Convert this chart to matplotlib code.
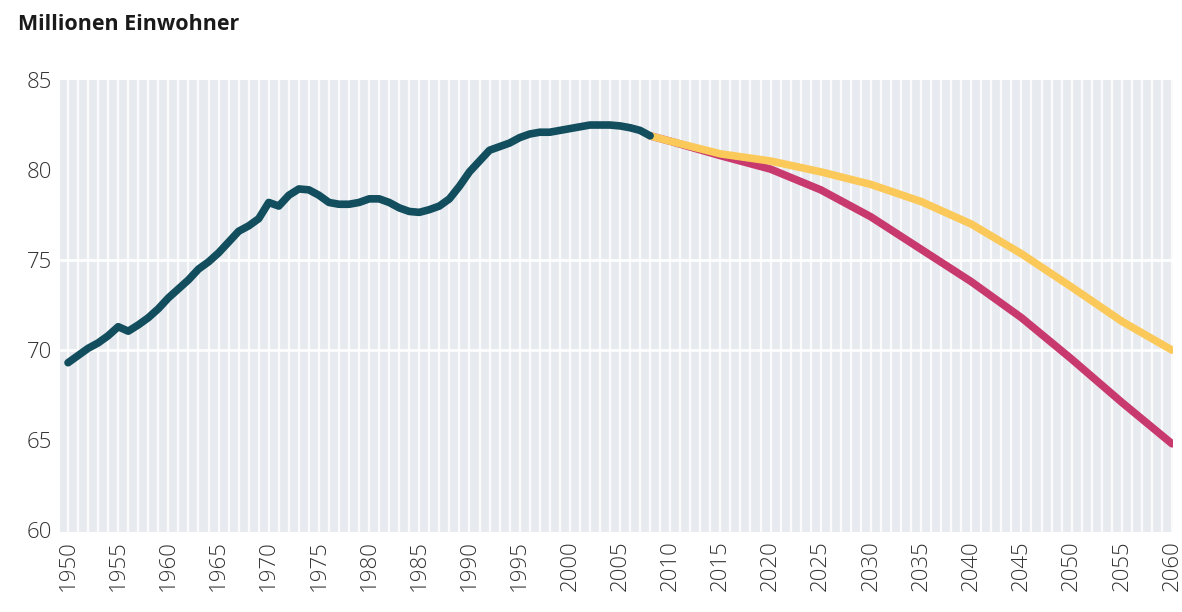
import numpy as np
import matplotlib
matplotlib.use('Agg')
import matplotlib.pyplot as plt

## data (million inhabitants)
hist_years = list(range(1950, 2009))
hist_pop = [69.3, 69.7, 70.1, 70.4, 70.8, 71.3, 71.05, 71.4, 71.8, 72.3,
            72.9, 73.4, 73.9, 74.5, 74.9, 75.4, 76.0, 76.6, 76.9, 77.3,
            78.2, 78.0, 78.6, 78.95, 78.9, 78.6, 78.2, 78.1, 78.1, 78.2,
            78.4, 78.4, 78.2, 77.9, 77.7, 77.65, 77.8, 78.0, 78.4, 79.1,
            79.9, 80.5, 81.1, 81.3, 81.5, 81.8, 82.0, 82.1, 82.1, 82.2,
            82.3, 82.4, 82.5, 82.5, 82.5, 82.45, 82.35, 82.2, 81.9]
proj_years = [2008, 2010, 2015, 2020, 2025, 2030, 2035, 2040, 2045, 2050, 2055, 2060]
proj_upper = [81.9, 81.6, 80.9, 80.5, 79.9, 79.2, 78.25, 77.0, 75.35, 73.5, 71.6, 70.0]
proj_lower = [81.9, 81.6, 80.8, 80.05, 78.9, 77.4, 75.6, 73.8, 71.8, 69.5, 67.1, 64.8]

yticks = [60, 65, 70, 75, 80, 85]
xticks = list(range(1950, 2061, 5))

c_hist = '#124e5d'
c_upper = '#fbc95a'
c_lower = '#c83a6e'
c_bg = '#e7ebef'

plt.rcParams['font.family'] = ['Open Sans', 'DejaVu Sans']

fig = plt.figure(figsize=(11.82, 6.12), dpi=100)
ax = fig.add_axes([60/1182, 1-532/612, (1173-60)/1182, (532-80)/612])
ax.set_facecolor(c_bg)

## white stripes per year, faint white lines at some y levels
for yr in range(1949, 2061):
    ax.axvline(yr, color='white', lw=1.6, alpha=0.85, zorder=1)
for yv in [70, 75]:
    ax.axhline(yv, color='white', lw=2.0, alpha=0.9, zorder=1)

ax.plot(proj_years, proj_lower, color=c_lower, lw=5.5, zorder=3, solid_capstyle='round')
ax.plot(proj_years, proj_upper, color=c_upper, lw=5.5, zorder=4, solid_capstyle='round')
ax.plot(hist_years, hist_pop, color=c_hist, lw=5.5, zorder=5, solid_capstyle='round')

ax.set_xlim(1949.2, 2060.1)
ax.set_ylim(59.9, 85)
ax.set_xticks(xticks)
ax.set_xticklabels([str(x) for x in xticks], rotation=90)
ax.set_yticks(yticks)
ax.tick_params(length=0, labelsize=16, labelcolor='#333333', pad=6)
for lab in ax.get_xticklabels() + ax.get_yticklabels():
    lab.set_fontweight('light')
for s in ax.spines.values():
    s.set_visible(False)

fig.text(18/1182, 1-24/612, 'Millionen Einwohner', fontsize=15.5, fontweight='bold',
         color='#1a1a1a', va='center', ha='left')

fig.savefig('out.png', dpi=100, facecolor='white')
